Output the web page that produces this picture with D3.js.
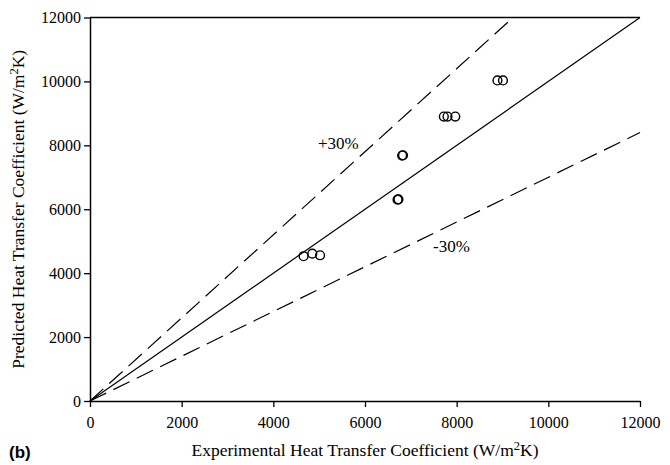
<!DOCTYPE html>
<html>
<head>
<meta charset="utf-8">
<script src="https://cdn.jsdelivr.net/npm/d3@7"></script>
<style>
  body { margin: 0; background: #fff; }
  svg { display: block; }
</style>
</head>
<body>
<div id="plot_area"></div>
<script>
// data
var expHTC  = [4660, 4850, 5020, 6710, 6730, 6810, 6830, 7720, 7800, 7970, 8890, 9010];
var predHTC = [4530, 4610, 4560, 6300, 6310, 7680, 7690, 8900, 8900, 8900, 10030, 10030];
var tickVals = [0, 2000, 4000, 6000, 8000, 10000, 12000];
var bandFactors = [1.3, 0.7];
var bandLabels = ["+30%", "-30%"];

var margin = {top: 17.5, right: 30, bottom: 64, left: 90},
    W = 670, H = 465,
    width = W - margin.left - margin.right,
    height = H - margin.top - margin.bottom;

var svg = d3.select('#plot_area')
  .append("svg")
  .attr("width", W)
  .attr("height", H)

var g = svg.append("g")
  .attr("transform", "translate(" + margin.left + "," + margin.top + ")")

var x = d3.scaleLinear().domain([0, 12000]).range([0, width])
var y = d3.scaleLinear().domain([0, 12000]).range([height, 0])

var serif = "'Liberation Serif', 'Times New Roman', serif"

// axes
var xAxis = g.append("g")
  .attr("transform", "translate(0," + height + ")")
  .call(d3.axisBottom(x).tickValues(tickVals).tickSize(6).tickSizeOuter(0).tickFormat(d3.format("d")))
var yAxis = g.append("g")
  .call(d3.axisLeft(y).tickValues(tickVals).tickSize(6).tickSizeOuter(0).tickFormat(d3.format("d")))

g.selectAll(".domain").attr("stroke", "#000").attr("stroke-width", 1.5)
g.selectAll(".tick line").attr("stroke", "#000").attr("stroke-width", 1.3)
g.selectAll(".tick text")
  .attr("fill", "#000")
  .style("font-family", serif)
  .style("font-size", "16px")
xAxis.selectAll(".tick text").attr("dy", "1.15em")
yAxis.selectAll(".tick text").attr("x", -9)

// top frame line
g.append("line")
  .attr("x1", 0).attr("x2", width)
  .attr("y1", 0).attr("y2", 0)
  .attr("stroke", "#000").attr("stroke-width", 1.5)

// 1:1 line
g.append("line")
  .attr("x1", x(0)).attr("y1", y(0))
  .attr("x2", x(12000)).attr("y2", y(12000))
  .attr("stroke", "#000").attr("stroke-width", 1.2)

// +/-30% lines
bandFactors.forEach(function(f) {
  var xEnd = Math.min(12000, 12000 / f)
  g.append("line")
    .attr("x1", x(0)).attr("y1", y(0))
    .attr("x2", x(xEnd)).attr("y2", y(xEnd * f))
    .attr("stroke", "#000").attr("stroke-width", 1.2)
    .attr("stroke-dasharray", "18,8")
})

g.append("text")
  .attr("x", 228).attr("y", 131)
  .style("font-family", serif).style("font-size", "17px")
  .text(bandLabels[0])
g.append("text")
  .attr("x", 343).attr("y", 234)
  .style("font-family", serif).style("font-size", "17px")
  .text(bandLabels[1])

// points
g.selectAll("circle")
  .data(expHTC.map(function(d, i) { return {X: d, Y: predHTC[i]} }))
  .enter()
  .append("circle")
  .attr("cx", function(d) { return x(d.X) })
  .attr("cy", function(d) { return y(d.Y) })
  .attr("r", 4.4)
  .attr("fill", "none")
  .attr("stroke", "#000")
  .attr("stroke-width", 1.4)

// axis titles
var xt = svg.append("text")
  .attr("x", margin.left + width / 2)
  .attr("y", 456)
  .attr("text-anchor", "middle")
  .style("font-family", serif).style("font-size", "17.5px")
xt.append("tspan").text("Experimental Heat Transfer Coefficient (W/m")
xt.append("tspan").attr("dy", -6).style("font-size", "12.5px").text("2")
xt.append("tspan").attr("dy", 6).text("K)")

var yt = svg.append("text")
  .attr("transform", "translate(24," + (margin.top + height / 2) + ") rotate(-90)")
  .attr("text-anchor", "middle")
  .style("font-family", serif).style("font-size", "17.5px")
yt.append("tspan").text("Predicted Heat Transfer Coefficient (W/m")
yt.append("tspan").attr("dy", -6).style("font-size", "12.5px").text("2")
yt.append("tspan").attr("dy", 6).text("K)")

svg.append("text")
  .attr("x", 9).attr("y", 458)
  .style("font-family", "'Liberation Sans', Arial, sans-serif")
  .style("font-size", "17px").style("font-weight", "bold")
  .text("(b)")
</script>
</body>
</html>
